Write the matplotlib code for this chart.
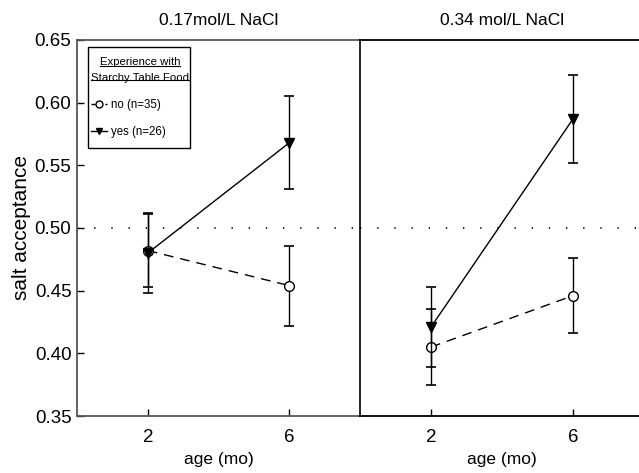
import numpy as np
import matplotlib
matplotlib.use('Agg')
import matplotlib.pyplot as plt
from matplotlib.lines import Line2D
from matplotlib.patches import Rectangle

plt.rcParams.update({
    'font.family': ['Liberation Sans', 'DejaVu Sans'],
    'font.size': 12,
})

AGES = [2, 6]
PANELS = ['0.17mol/L NaCl', '0.34 mol/L NaCl']

# salt acceptance means and error bar half-widths, per panel
NO_MEAN = [[0.482, 0.454], [0.405, 0.446]]
NO_ERR = [[0.029, 0.032], [0.030, 0.030]]
YES_MEAN = [[0.480, 0.568], [0.421, 0.587]]
YES_ERR = [[0.032, 0.037], [0.032, 0.035]]

LABEL_NO = 'no (n=35)'
LABEL_YES = 'yes (n=26)'
LEG_TITLE = ['Experience with', 'Starchy Table Food']

fig = plt.figure(figsize=(6.39, 4.73), dpi=100)
ax1 = fig.add_axes([0.1205, 0.1205, 0.443, 0.795])
ax2 = fig.add_axes([0.5634, 0.1205, 0.4444, 0.795])

for i, ax in enumerate([ax1, ax2]):
    ax.axhline(0.5, color='black', ls=(0, (0.8, 9.5)), lw=1.2)
    ax.errorbar(AGES, NO_MEAN[i], yerr=NO_ERR[i], color='black', lw=1.0,
                ls=(0, (7, 5)), marker='o', mfc='white', mec='black', ms=7,
                capsize=3.5, elinewidth=1.0, capthick=1.2, zorder=3)
    ax.errorbar(AGES, YES_MEAN[i], yerr=YES_ERR[i], color='black', lw=1.0,
                ls='-', marker='v', mfc='black', mec='black', ms=7,
                capsize=3.5, elinewidth=1.0, capthick=1.2, zorder=4)
    ax.set_xlim(0, 8)
    ax.set_ylim(0.35, 0.65)
    ax.set_xticks(AGES)
    ax.set_xlabel('age (mo)', fontsize=12.5, labelpad=5)
    ax.set_title(PANELS[i], fontsize=12.5, pad=11)
    ax.tick_params(direction='in', length=5, width=1, labelsize=13.5)
    ax.tick_params(axis='x', pad=9)
    ax.tick_params(axis='y', pad=4)

ax1.set_yticks(np.arange(0.35, 0.651, 0.05))
ax1.set_yticklabels([f'{v:.2f}' for v in np.arange(0.35, 0.651, 0.05)])
ax1.set_ylabel('salt acceptance', fontsize=15, labelpad=3)
for s in ['left', 'top', 'bottom']:
    ax1.spines[s].set_color('#555555')
    ax1.spines[s].set_linewidth(1.3)
ax1.spines['right'].set_visible(False)

ax2.set_yticks([])
ax2.spines['right'].set_visible(False)
ax2.spines['left'].set_linewidth(1.2)
ax2.spines['left'].set_color('black')
for s in ['top', 'bottom']:
    ax2.spines[s].set_linewidth(1.3)

# legend frame
ax1.add_patch(Rectangle((0.039, 0.713), 0.360, 0.269, transform=ax1.transAxes,
                        fill=True, fc='white', ec='black', lw=1.0, zorder=5))

handles = [
    Line2D([0], [0], color='black', lw=1.0, ls=(0, (3, 2)), marker='o',
           mfc='white', mec='black', ms=5),
    Line2D([0], [0], color='black', lw=1.0, ls='-', marker='v',
           mfc='black', mec='black', ms=5),
]
leg = ax1.legend(handles, [LABEL_NO, LABEL_YES], title='\n'.join(LEG_TITLE),
                 loc='upper left', bbox_to_anchor=(0.05, 0.955),
                 borderaxespad=0, frameon=False,
                 fontsize=8.3, title_fontsize=8.2, handlelength=1.4,
                 handletextpad=0.3, labelspacing=1.35, borderpad=0.0)
leg.set_zorder(6)
leg._legend_box.align = 'left'
leg.get_title().set_multialignment('center')
leg.get_title().set_linespacing(1.8)

# underline each line of the legend title
fig.canvas.draw()
r = fig.canvas.get_renderer()
tb = leg.get_title().get_window_extent(r)
lh = tb.height / 2
cx = (tb.x0 + tb.x1) / 2
for k, line in enumerate(LEG_TITLE):
    t = fig.text(0, 0, line, fontsize=8.2)
    w = t.get_window_extent(r).width
    t.remove()
    yb = tb.y1 - k * lh - lh * 0.72
    fx = [(cx - w / 2) / fig.bbox.width, (cx + w / 2) / fig.bbox.width]
    fy = [yb / fig.bbox.height] * 2
    fig.add_artist(Line2D(fx, fy, color='black', lw=0.8, zorder=7))

fig.savefig('out.png', dpi=100)
